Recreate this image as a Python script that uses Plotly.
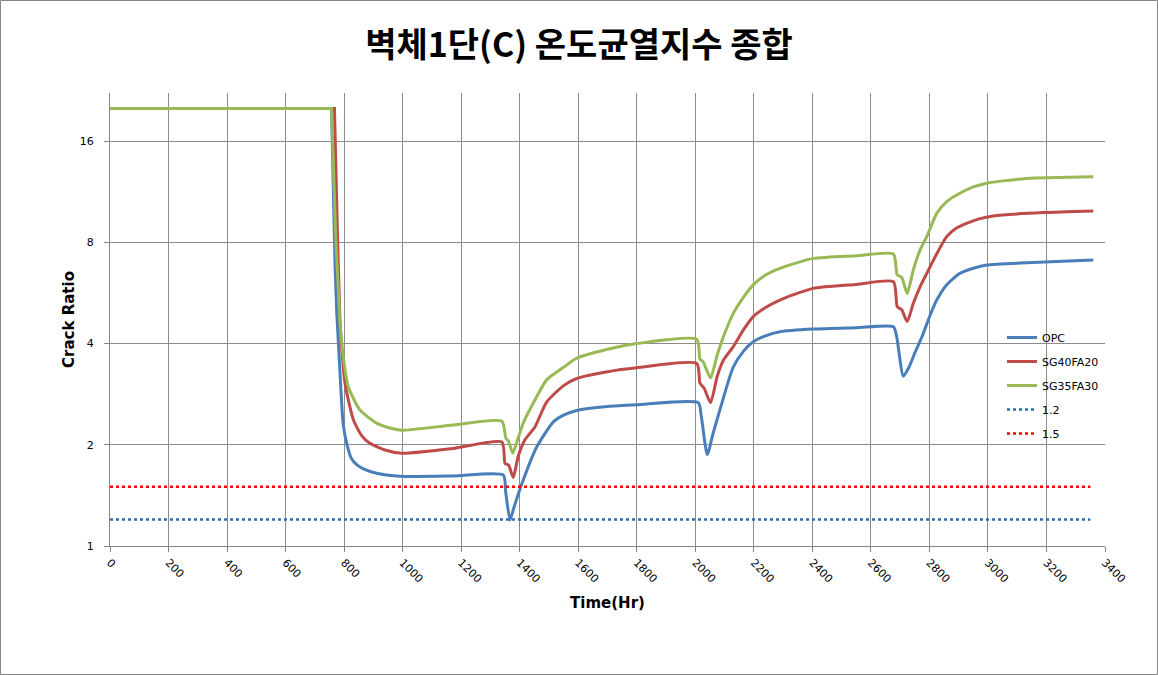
import math
import plotly.graph_objects as go

# ---- data ----
opc_t = [0, 757, 769, 775, 786, 797, 810, 825, 845, 870, 911, 960, 1000, 1173, 1344, 1352, 1367, 1380, 1412, 1458,
         1515, 1550, 1595, 1700, 1800, 2010, 2020, 2041, 2060, 2084, 2130, 2165, 2198, 2240, 2289, 2403, 2550, 2677,
         2688, 2711, 2730, 2750, 2775, 2800, 2825, 2860, 2904, 2950, 2996, 3132, 3360]
opc_v = [20, 20, 6.8, 4.9, 3.27, 2.3, 2.0, 1.82, 1.74, 1.69, 1.645, 1.62, 1.61, 1.615, 1.626, 1.45, 1.195, 1.3, 1.571, 1.97,
         2.34, 2.45, 2.53, 2.6, 2.63, 2.67, 2.45, 1.87, 2.15, 2.54, 3.41, 3.8, 4.05, 4.22, 4.34, 4.42, 4.46, 4.49,
         4.2, 3.2, 3.4, 3.75, 4.2, 4.8, 5.39, 6.0, 6.47, 6.7, 6.85, 6.96, 7.09]

sg40_t = [0, 767, 778, 786, 803, 832, 860, 888, 940, 997, 1173, 1339, 1350, 1362, 1378, 1395, 1418, 1452, 1492,
          1550, 1595, 1700, 1800, 2005, 2016, 2030, 2052, 2075, 2096, 2130, 2165, 2198, 2240, 2289, 2403, 2550,
          2677, 2690, 2705, 2724, 2745, 2768, 2791, 2825, 2859, 2890, 2927, 2970, 3018, 3189, 3360]
sg40_v = [20, 20, 8.0, 4.6, 3.05, 2.37, 2.13, 2.02, 1.93, 1.887, 1.95, 2.04, 1.76, 1.74, 1.6, 1.85, 2.07, 2.26, 2.68,
          3.0, 3.15, 3.3, 3.39, 3.49, 3.05, 2.95, 2.67, 3.2, 3.57, 3.92, 4.4, 4.81, 5.12, 5.39, 5.84, 6.0,
          6.11, 5.15, 5.05, 4.65, 5.27, 5.9, 6.47, 7.4, 8.32, 8.8, 9.12, 9.4, 9.59, 9.81, 9.92]

sg35_t = [0, 757, 772, 786, 797, 814, 854, 911, 960, 997, 1173, 1339, 1353, 1362, 1376, 1395, 1412, 1458,
          1492, 1550, 1595, 1700, 1800, 2005, 2016, 2027, 2052, 2075, 2096, 2130, 2165, 2198, 2240, 2289, 2403,
          2550, 2677, 2690, 2705, 2724, 2745, 2768, 2791, 2825, 2860, 2904, 2950, 2996, 3132, 3360]
sg35_v = [20, 20, 8.0, 4.6, 3.66, 2.98, 2.54, 2.32, 2.24, 2.21, 2.29, 2.35, 2.09, 2.05, 1.89, 2.1, 2.32, 2.78,
          3.12, 3.4, 3.62, 3.85, 4.0, 4.12, 3.6, 3.53, 3.16, 3.7, 4.19, 4.92, 5.5, 5.98, 6.4, 6.7, 7.17,
          7.3, 7.39, 6.4, 6.3, 5.64, 6.63, 7.59, 8.32, 9.76, 10.6, 11.2, 11.7, 12.0, 12.4, 12.55]

limit_t = [0, 3350]
limit_12 = [1.2, 1.2]
limit_15 = [1.5, 1.5]

x_ticks = list(range(0, 3401, 200))
y_ticks = [1, 2, 4, 8, 16]

# the plateau and the initial drop are straight segments; the rest is smooth
KNEE_T = 786

# ---- figure ----
W, H = 1158, 675
ML, MR, MT, MB = 110, 53, 93, 129
PW, PH = W - ML - MR, H - MT - MB

fig = go.Figure()
curves = [
    ("OPC", opc_t, opc_v, "#4A7EBB"),
    ("SG40FA20", sg40_t, sg40_v, "#BE4B48"),
    ("SG35FA30", sg35_t, sg35_v, "#98B954"),
]
for i, (name, t, v, c) in enumerate(curves):
    k = next(j for j, tt in enumerate(t) if tt >= KNEE_T)
    fig.add_trace(go.Scatter(x=t[:k + 1], y=v[:k + 1], mode="lines", name=name, legendgroup=name,
                             showlegend=False, line=dict(color=c, width=3)))
    fig.add_trace(go.Scatter(x=t[k:], y=v[k:], mode="lines", name=name, legendgroup=name,
                             line=dict(color=c, width=3, shape="spline", smoothing=0.6)))

for name, yv, c in [("1.2", limit_12, "#2F6FB0"), ("1.5", limit_15, "#FF0000")]:
    fig.add_trace(go.Scatter(x=limit_t, y=yv, mode="lines", name=name, legendgroup=name,
                             line=dict(color=c, width=2.5, dash="dot")))

ytop = 2 ** (PH / 101.2)

fig.update_layout(
    width=W, height=H,
    margin=dict(l=ML, r=MR, t=MT, b=MB),
    paper_bgcolor="white", plot_bgcolor="white",
    title=dict(text="<b>벽체1단(C) 온도균열지수 종합</b>", x=0.5, xref="container",
               y=1 - 45 / H, yref="container", yanchor="middle", xanchor="center",
               font=dict(family="Noto Sans CJK KR", size=34, color="black")),
    font=dict(family="DejaVu Sans", size=11, color="black"),
    legend=dict(x=(1002 - ML) / PW, y=(546 - 323) / PH, xanchor="left", yanchor="top",
                bgcolor="rgba(0,0,0,0)", font=dict(family="DejaVu Sans", size=11),
                tracegroupgap=5, itemwidth=30),
    showlegend=True,
)
fig.update_xaxes(range=[0, 3400], tickvals=x_ticks, ticktext=[str(v) for v in x_ticks],
                 tickangle=45, showgrid=True, gridcolor="#8C8C8C", gridwidth=1,
                 showline=True, linecolor="#868686", linewidth=1,
                 ticks="outside", ticklen=5, tickcolor="#868686",
                 title=dict(text="<b>Time(Hr)</b>", font=dict(family="DejaVu Sans", size=15), standoff=12),
                 zeroline=False)
fig.update_yaxes(type="log", range=[0, math.log10(ytop)], tickvals=y_ticks,
                 ticktext=[str(v) for v in y_ticks],
                 showgrid=True, gridcolor="#8C8C8C", gridwidth=1,
                 showline=True, linecolor="#868686", linewidth=1,
                 ticks="outside", ticklen=5, tickcolor="#868686", ticklabelstandoff=8,
                 title=dict(text="<b>Crack Ratio</b>", font=dict(family="DejaVu Sans", size=15), standoff=1),
                 zeroline=False)

# outer chart border
fig.add_shape(type="rect", xref="paper", yref="paper",
              x0=(0.5 - ML) / PW, x1=(W - 0.5 - ML) / PW,
              y0=(H - MB - (H - 0.5)) / PH, y1=(H - MB - 0.5) / PH,
              line=dict(color="#868686", width=1), fillcolor="rgba(0,0,0,0)", layer="below")

fig.write_html("out.html")
